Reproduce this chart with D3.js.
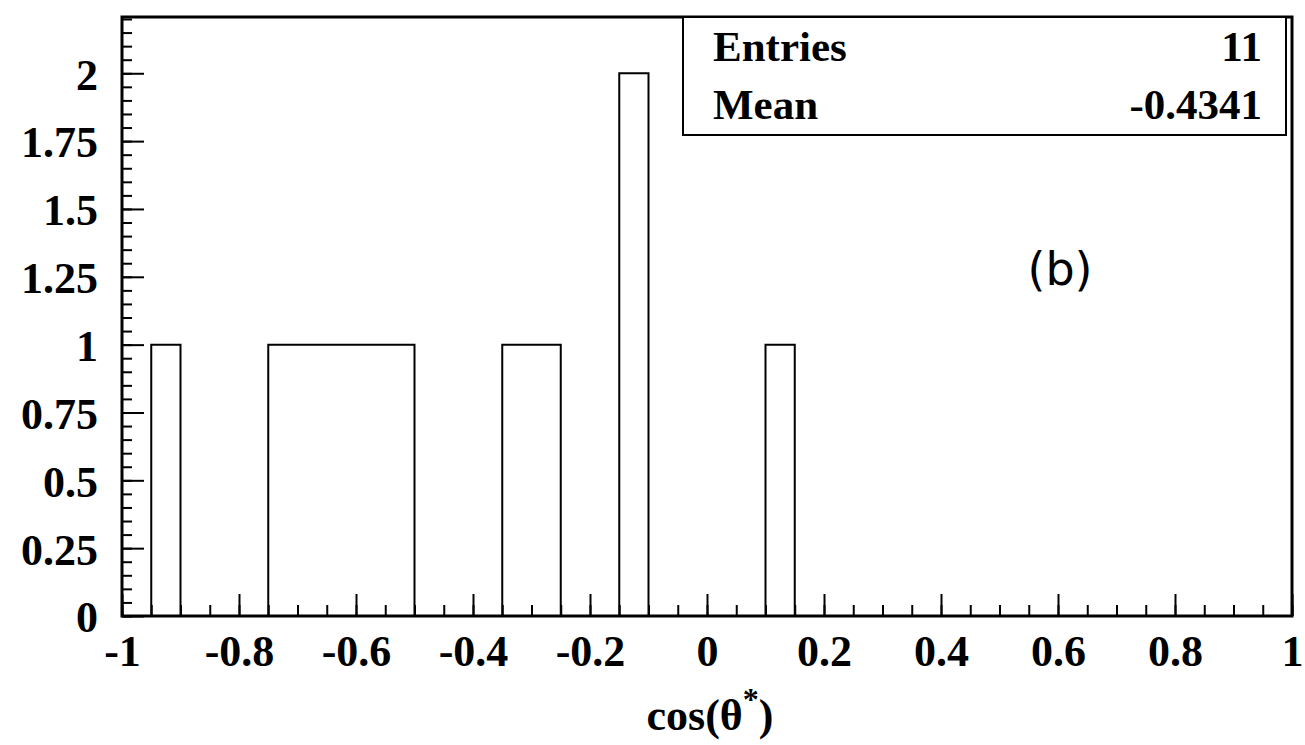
<!DOCTYPE html>
<html>
<head>
<meta charset="utf-8">
<script src="https://cdn.jsdelivr.net/npm/d3@7"></script>
<style>
  body { margin: 0; background: #fff; }
  svg text { font-family: "Liberation Serif", "Times New Roman", serif; font-weight: bold; }
</style>
</head>
<body>
<div id="chart"></div>
<script>

    const WIDTH = 1305;
    const HEIGHT = 745;

    // histogram: 40 bins of width 0.05 between -1 and 1
    const binLow = -1;
    const binWidth = 0.05;
    const counts = [0, 1, 0, 0, 0, 1, 1, 1, 1, 1,
                    0, 0, 0, 1, 1, 0, 0, 2, 0, 0,
                    0, 0, 1, 0, 0, 0, 0, 0, 0, 0,
                    0, 0, 0, 0, 0, 0, 0, 0, 0, 0];

    const xTickLabels = [-1, -0.8, -0.6, -0.4, -0.2, 0, 0.2, 0.4, 0.6, 0.8, 1];
    const yTickLabels = [0, 0.25, 0.5, 0.75, 1, 1.25, 1.5, 1.75, 2];
    const statNames = ["Entries", "Mean"];
    const statValues = ["11", "-0.4341"];

    const plotLeft = 122, plotRight = 1292, plotTop = 17, plotBottom = 616;

    var svg = d3.select("#chart").append("svg")
        .attr("width", WIDTH)
        .attr("height", HEIGHT);

    var x = d3.scaleLinear().domain([-1, 1]).range([plotLeft, plotRight]);
    var y = d3.scaleLinear().domain([0, 2.2]).range([plotBottom, plotTop + 2]);

    // minor ticks every 0.05
    var xMinor = d3.range(-20, 21).map(function(i){ return i * 0.05; });
    var yMinor = d3.range(0, 45).map(function(i){ return i * 0.05; });

    svg.append("g")
        .attr("transform", "translate(0," + plotBottom + ")")
        .call(d3.axisBottom(x).tickValues(xMinor).tickSize(-11).tickFormat(""))
        .call(function(g){ g.select(".domain").remove(); })
        .selectAll("line").attr("stroke", "#000").attr("stroke-width", 2);

    svg.append("g")
        .attr("transform", "translate(0," + plotBottom + ")")
        .call(d3.axisBottom(x).tickValues(xTickLabels).tickSize(-22).tickPadding(19)
            .tickFormat(function(d){ return String(d); }))
        .call(function(g){
            g.select(".domain").remove();
            g.selectAll("line").attr("stroke", "#000").attr("stroke-width", 2);
            g.selectAll("text").attr("font-size", 44).attr("fill", "#000")
                .attr("dy", "0.71em");
        });

    svg.append("g")
        .attr("transform", "translate(" + plotLeft + ",0)")
        .call(d3.axisLeft(y).tickValues(yMinor.filter(function(v){ return v <= 2.2; })).tickSize(-10).tickFormat(""))
        .call(function(g){ g.select(".domain").remove(); })
        .selectAll("line").attr("stroke", "#000").attr("stroke-width", 2);

    svg.append("g")
        .attr("transform", "translate(" + plotLeft + ",0)")
        .call(d3.axisLeft(y).tickValues(yTickLabels).tickSize(-22).tickPadding(24)
            .tickFormat(function(d){ return String(d); }))
        .call(function(g){
            g.select(".domain").remove();
            g.selectAll("line").attr("stroke", "#000").attr("stroke-width", 2);
            g.selectAll("text").attr("font-size", 44).attr("fill", "#000")
                .attr("dy", "0.36em");
        });

    // histogram outline
    var pts = [[x(binLow), y(0)]];
    counts.forEach(function(c, i){
        var lo = binLow + i * binWidth, hi = lo + binWidth;
        pts.push([x(lo), y(c)]);
        pts.push([x(hi), y(c)]);
    });
    pts.push([x(binLow + counts.length * binWidth), y(0)]);

    svg.append("path")
        .attr("d", d3.line()(pts))
        .attr("fill", "none")
        .attr("stroke", "#000")
        .attr("stroke-width", 2);

    // frame
    svg.append("rect")
        .attr("x", plotLeft).attr("y", plotTop)
        .attr("width", plotRight - plotLeft).attr("height", plotBottom - plotTop)
        .attr("fill", "none").attr("stroke", "#000").attr("stroke-width", 3);

    // stats box
    var box = svg.append("g");
    box.append("rect")
        .attr("x", 683).attr("y", plotTop)
        .attr("width", 1286 - 683).attr("height", 135 - plotTop)
        .attr("fill", "#fff").attr("stroke", "#000").attr("stroke-width", 2);
    statNames.forEach(function(name, i){
        box.append("text")
            .attr("x", 713).attr("y", 61 + i * 58)
            .attr("font-size", 43)
            .text(name);
        box.append("text")
            .attr("x", 1262).attr("y", 61 + i * 58)
            .attr("font-size", 43)
            .attr("text-anchor", "end")
            .text(statValues[i]);
    });

    svg.append("text")
        .attr("x", 1060).attr("y", 285)
        .attr("text-anchor", "middle")
        .attr("font-size", 46)
        .style("font-family", "'DejaVu Sans', sans-serif")
        .style("font-weight", "normal")
        .text("(b)");

    // x-axis title
    var title = svg.append("text")
        .attr("x", 710).attr("y", 730)
        .attr("text-anchor", "middle")
        .attr("font-size", 44);
    title.append("tspan").text("cos(θ");
    title.append("tspan").attr("dy", -20).attr("font-size", 32).text("*");
    title.append("tspan").attr("dy", 20).text(")");

</script>
</body>
</html>
